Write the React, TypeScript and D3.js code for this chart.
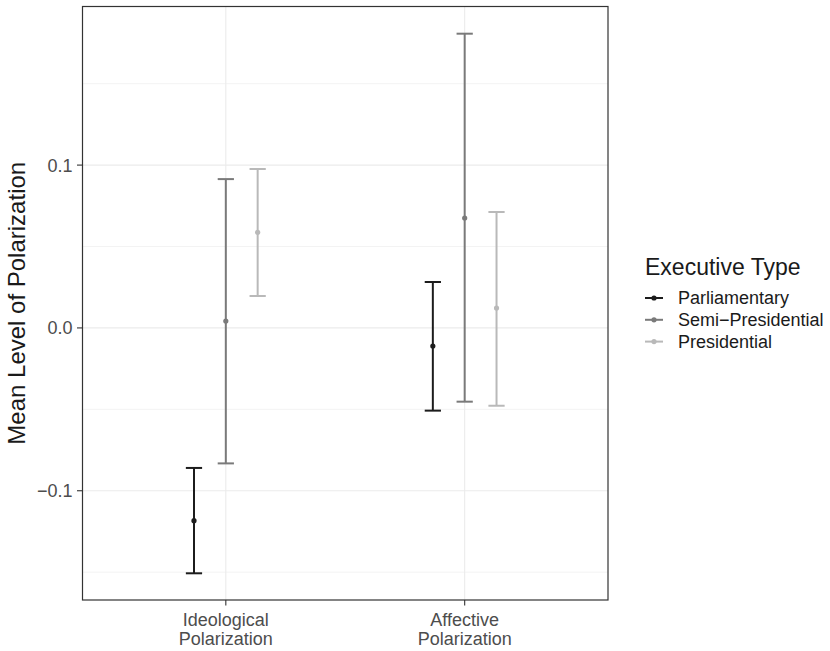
import React from "react";
import * as d3 from "d3";

const categories = ["Ideological\nPolarization", "Affective\nPolarization"];
const groups = ["Parliamentary", "Semi\u2212Presidential", "Presidential"];
const colors = ["#1c1c1c", "#7a7a7a", "#b9b9b9"];
// values by [category][group]
const means = [
  [-0.1184, 0.0042, 0.0587],
  [-0.0111, 0.0675, 0.0122],
];
const lowers = [
  [-0.1507, -0.0832, 0.0196],
  [-0.0508, -0.0453, -0.0478],
];
const uppers = [
  [-0.086, 0.0914, 0.0976],
  [0.0282, 0.1807, 0.0712],
];
const yTicks = [-0.1, 0.0, 0.1];
const yMinor = [-0.15, -0.05, 0.05, 0.15];
const yTickLabels = ["\u22120.1", "0.0", "0.1"];

export default function App() {
  const W = 830, H = 651;
  const left = 82.5, right = 608, top = 6.5, bottom = 600;
  const y = d3.scaleLinear().domain([-0.1671, 0.1974]).range([bottom, top]);
  const x = d3.scaleLinear().domain([0.4, 2.6]).range([left, right]);
  const dodge = 0.1333;
  const capHalf = 0.034;
  const font = "Liberation Sans, Arial, sans-serif";
  const axisCol = "#4d4d4d";
  return (
    <svg width={W} height={H} style={{ position: "absolute", left: 0, top: 0 }} fontFamily={font}>
      <rect x={0} y={0} width={W} height={H} fill="white" />
      {yMinor.map((v) => (
        <line key={"m" + v} x1={left} x2={right} y1={y(v)} y2={y(v)} stroke="#ebebeb" strokeWidth={0.6} />
      ))}
      {yTicks.map((v) => (
        <line key={"g" + v} x1={left} x2={right} y1={y(v)} y2={y(v)} stroke="#ebebeb" strokeWidth={1.1} />
      ))}
      {categories.map((c, i) => (
        <line key={"vx" + i} x1={x(i + 1)} x2={x(i + 1)} y1={top} y2={bottom} stroke="#ebebeb" strokeWidth={1.1} />
      ))}
      {categories.map((c, ci) =>
        groups.map((g, gi) => {
          const cx = x(ci + 1 + (gi - 1) * dodge);
          const hw = x(1 + capHalf) - x(1);
          return (
            <g key={c + g} stroke={colors[gi]} strokeWidth={2}>
              <line x1={cx} x2={cx} y1={y(lowers[ci][gi])} y2={y(uppers[ci][gi])} />
              <line x1={cx - hw} x2={cx + hw} y1={y(lowers[ci][gi])} y2={y(lowers[ci][gi])} />
              <line x1={cx - hw} x2={cx + hw} y1={y(uppers[ci][gi])} y2={y(uppers[ci][gi])} />
              <circle cx={cx} cy={y(means[ci][gi])} r={2.6} fill={colors[gi]} stroke="none" />
            </g>
          );
        })
      )}
      <rect x={left} y={top} width={right - left} height={bottom - top} fill="none" stroke="#333333" strokeWidth={1.2} />
      {yTicks.map((v, i) => (
        <g key={"t" + v}>
          <line x1={left - 5.5} x2={left} y1={y(v)} y2={y(v)} stroke="#333333" strokeWidth={1.1} />
          <text x={left - 10} y={y(v)} dy="0.36em" textAnchor="end" fontSize={18} fill={axisCol}>
            {yTickLabels[i]}
          </text>
        </g>
      ))}
      {categories.map((c, i) => (
        <g key={"xt" + i}>
          <line x1={x(i + 1)} x2={x(i + 1)} y1={bottom} y2={bottom + 5.5} stroke="#333333" strokeWidth={1.1} />
          {c.split("\n").map((s, k) => (
            <text key={k} x={x(i + 1)} y={bottom + 25.5 + k * 19.5} textAnchor="middle" fontSize={18} fill={axisCol}>
              {s}
            </text>
          ))}
        </g>
      ))}
      <text
        transform={`translate(25,${(top + bottom) / 2}) rotate(-90)`}
        textAnchor="middle"
        fontSize={24}
        fill="#1a1a1a"
      >
        Mean Level of Polarization
      </text>
      <text x={645} y={275} fontSize={23} fill="#1a1a1a">Executive Type</text>
      {groups.map((g, gi) => {
        const ly = 298 + gi * 21.8;
        return (
          <g key={"l" + g}>
            <line x1={645} x2={663} y1={ly} y2={ly} stroke={colors[gi]} strokeWidth={2} />
            <circle cx={654} cy={ly} r={2.6} fill={colors[gi]} />
            <text x={678} y={ly} dy="0.36em" fontSize={18} fill="#1a1a1a">{g}</text>
          </g>
        );
      })}
    </svg>
  );
}
